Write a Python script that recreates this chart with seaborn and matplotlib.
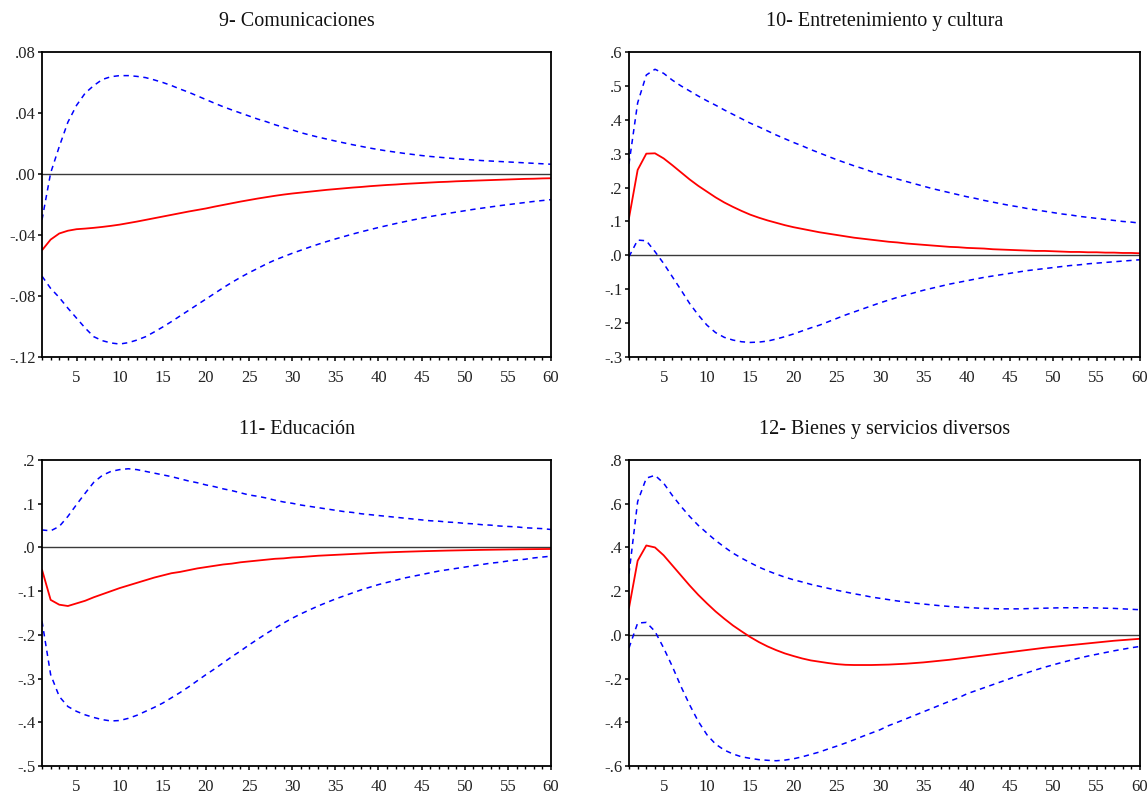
import matplotlib
matplotlib.use("Agg")
import matplotlib.pyplot as plt
import seaborn as sns
from matplotlib.ticker import FixedLocator, MultipleLocator, FuncFormatter

sns.set_theme(style="ticks")
plt.rcParams['font.family'] = ['Liberation Serif', 'DejaVu Serif']

periods = list(range(1, 61))

# 9- Comunicaciones
comm_resp = [-0.050, -0.043, -0.039, -0.0372, -0.0362, -0.0358, -0.0353, -0.0347, -0.0340, -0.0332,
             -0.0322, -0.0312, -0.0301, -0.0290, -0.0279, -0.0268, -0.0257, -0.0246, -0.0236, -0.0226,
             -0.0214, -0.0203, -0.0192, -0.0181, -0.0171, -0.0161, -0.0152, -0.0143, -0.0135, -0.0128,
             -0.0122, -0.0116, -0.0110, -0.0104, -0.0099, -0.0094, -0.0089, -0.0085, -0.0080, -0.0076,
             -0.0072, -0.0069, -0.0065, -0.0062, -0.0059, -0.0056, -0.0053, -0.0051, -0.0048, -0.0046,
             -0.0044, -0.0042, -0.0040, -0.0038, -0.0036, -0.0034, -0.0032, -0.0031, -0.0029, -0.0028]
comm_hi = [-0.030, 0.0007, 0.018, 0.034, 0.045, 0.053, 0.058, 0.062, 0.0638, 0.0645,
           0.0645, 0.0640, 0.0632, 0.0617, 0.0600, 0.0580, 0.0557, 0.0536, 0.0512, 0.0488,
           0.0464, 0.0441, 0.0420, 0.0400, 0.0380, 0.0360, 0.0343, 0.0323, 0.0306, 0.0289,
           0.0271, 0.0256, 0.0242, 0.0229, 0.0216, 0.0204, 0.0192, 0.0181, 0.0170, 0.0160,
           0.0151, 0.0143, 0.0135, 0.0128, 0.0121, 0.0115, 0.0110, 0.0105, 0.0100, 0.0096,
           0.0092, 0.0088, 0.0085, 0.0082, 0.0079, 0.0076, 0.0073, 0.0070, 0.0067, 0.0064]
comm_lo = [-0.067, -0.075, -0.081, -0.088, -0.0945, -0.101, -0.1067, -0.1093, -0.1108, -0.1115,
           -0.1106, -0.1089, -0.1067, -0.1036, -0.1003, -0.0968, -0.0931, -0.0894, -0.0857, -0.0820,
           -0.0783, -0.0746, -0.0711, -0.0678, -0.0647, -0.0619, -0.0590, -0.0564, -0.0542, -0.0520,
           -0.0500, -0.0480, -0.0461, -0.0443, -0.0426, -0.0410, -0.0394, -0.0379, -0.0365, -0.0351,
           -0.0338, -0.0325, -0.0313, -0.0301, -0.0290, -0.0279, -0.0269, -0.0259, -0.0250, -0.0241,
           -0.0232, -0.0224, -0.0216, -0.0208, -0.0201, -0.0194, -0.0187, -0.0180, -0.0174, -0.0168]

# 10- Entretenimiento y cultura
ent_resp = [0.110, 0.252, 0.300, 0.301, 0.286, 0.266, 0.245, 0.224, 0.205, 0.188,
            0.171, 0.156, 0.143, 0.131, 0.120, 0.111, 0.103, 0.096, 0.089, 0.083,
            0.078, 0.073, 0.068, 0.064, 0.060, 0.056, 0.052, 0.049, 0.046, 0.043,
            0.040, 0.038, 0.035, 0.033, 0.031, 0.029, 0.027, 0.025, 0.024, 0.022,
            0.021, 0.020, 0.018, 0.017, 0.016, 0.015, 0.014, 0.013, 0.013, 0.012,
            0.011, 0.010, 0.010, 0.009, 0.009, 0.008, 0.008, 0.007, 0.007, 0.006]
ent_hi = [0.270, 0.450, 0.532, 0.549, 0.537, 0.517, 0.500, 0.485, 0.470, 0.456,
          0.443, 0.429, 0.416, 0.403, 0.390, 0.379, 0.367, 0.355, 0.344, 0.333,
          0.323, 0.312, 0.302, 0.292, 0.282, 0.273, 0.264, 0.256, 0.247, 0.239,
          0.232, 0.225, 0.218, 0.211, 0.204, 0.197, 0.191, 0.185, 0.179, 0.173,
          0.168, 0.162, 0.157, 0.152, 0.147, 0.143, 0.138, 0.134, 0.130, 0.126,
          0.122, 0.119, 0.115, 0.112, 0.109, 0.106, 0.103, 0.100, 0.098, 0.095]
ent_lo = [-0.004, 0.045, 0.043, 0.011, -0.024, -0.063, -0.102, -0.142, -0.176, -0.206,
          -0.228, -0.242, -0.250, -0.255, -0.257, -0.256, -0.253, -0.247, -0.240, -0.232,
          -0.223, -0.214, -0.206, -0.196, -0.186, -0.176, -0.167, -0.158, -0.149, -0.140,
          -0.132, -0.124, -0.117, -0.110, -0.103, -0.097, -0.091, -0.085, -0.080, -0.075,
          -0.070, -0.065, -0.061, -0.057, -0.053, -0.049, -0.045, -0.042, -0.039, -0.036,
          -0.033, -0.030, -0.028, -0.025, -0.023, -0.021, -0.019, -0.017, -0.015, -0.013]

# 11- Educación
edu_resp = [-0.051, -0.120, -0.131, -0.134, -0.128, -0.122, -0.114, -0.107, -0.100, -0.093,
            -0.087, -0.081, -0.075, -0.069, -0.064, -0.059, -0.056, -0.052, -0.048, -0.045,
            -0.042, -0.039, -0.037, -0.034, -0.032, -0.030, -0.028, -0.026, -0.025, -0.023,
            -0.022, -0.0205, -0.019, -0.018, -0.017, -0.016, -0.015, -0.014, -0.013, -0.012,
            -0.0113, -0.0106, -0.0099, -0.0093, -0.0087, -0.0082, -0.0077, -0.0072, -0.0068, -0.0064,
            -0.0060, -0.0056, -0.0053, -0.0050, -0.0047, -0.0044, -0.0041, -0.0039, -0.0037, -0.0035]
edu_hi = [0.040, 0.038, 0.048, 0.071, 0.098, 0.124, 0.149, 0.165, 0.174, 0.178,
          0.180, 0.178, 0.174, 0.170, 0.166, 0.162, 0.157, 0.152, 0.148, 0.143,
          0.139, 0.134, 0.130, 0.125, 0.120, 0.117, 0.113, 0.108, 0.104, 0.101,
          0.097, 0.094, 0.091, 0.088, 0.085, 0.082, 0.080, 0.077, 0.075, 0.073,
          0.071, 0.069, 0.067, 0.065, 0.063, 0.061, 0.060, 0.058, 0.057, 0.055,
          0.054, 0.052, 0.051, 0.049, 0.048, 0.047, 0.045, 0.044, 0.043, 0.041]
edu_lo = [-0.169, -0.291, -0.341, -0.364, -0.375, -0.383, -0.389, -0.394, -0.397, -0.396,
          -0.391, -0.384, -0.375, -0.366, -0.356, -0.344, -0.332, -0.319, -0.305, -0.291,
          -0.278, -0.264, -0.250, -0.237, -0.223, -0.210, -0.197, -0.185, -0.173, -0.162,
          -0.152, -0.143, -0.134, -0.126, -0.118, -0.111, -0.104, -0.097, -0.091, -0.085,
          -0.080, -0.075, -0.070, -0.066, -0.062, -0.058, -0.054, -0.051, -0.048, -0.045,
          -0.042, -0.039, -0.036, -0.034, -0.031, -0.029, -0.027, -0.024, -0.022, -0.020]

# 12- Bienes y servicios diversos
bien_resp = [0.123, 0.339, 0.409, 0.400, 0.364, 0.318, 0.272, 0.226, 0.183, 0.144,
             0.107, 0.074, 0.043, 0.016, -0.010, -0.033, -0.053, -0.070, -0.085, -0.097,
             -0.108, -0.117, -0.123, -0.129, -0.134, -0.137, -0.138, -0.138, -0.138, -0.137,
             -0.136, -0.134, -0.132, -0.129, -0.126, -0.122, -0.118, -0.114, -0.109, -0.104,
             -0.099, -0.094, -0.089, -0.084, -0.079, -0.074, -0.069, -0.064, -0.059, -0.055,
             -0.051, -0.047, -0.043, -0.039, -0.035, -0.031, -0.027, -0.024, -0.021, -0.018]
bien_hi = [0.280, 0.610, 0.717, 0.730, 0.694, 0.638, 0.588, 0.542, 0.501, 0.466,
           0.432, 0.402, 0.374, 0.351, 0.330, 0.310, 0.293, 0.278, 0.264, 0.252,
           0.242, 0.231, 0.222, 0.213, 0.204, 0.196, 0.188, 0.181, 0.173, 0.167,
           0.161, 0.155, 0.150, 0.145, 0.141, 0.137, 0.133, 0.130, 0.127, 0.125,
           0.123, 0.121, 0.120, 0.119, 0.119, 0.119, 0.120, 0.121, 0.122, 0.123,
           0.124, 0.124, 0.124, 0.124, 0.123, 0.122, 0.121, 0.119, 0.117, 0.115]
bien_lo = [-0.060, 0.054, 0.057, 0.016, -0.060, -0.144, -0.236, -0.320, -0.396, -0.457,
           -0.500, -0.527, -0.545, -0.558, -0.565, -0.571, -0.574, -0.576, -0.573, -0.567,
           -0.558, -0.547, -0.536, -0.522, -0.509, -0.495, -0.480, -0.464, -0.449, -0.434,
           -0.415, -0.400, -0.384, -0.368, -0.352, -0.336, -0.320, -0.304, -0.289, -0.270,
           -0.256, -0.242, -0.228, -0.214, -0.200, -0.186, -0.173, -0.160, -0.148, -0.137,
           -0.126, -0.116, -0.106, -0.097, -0.089, -0.081, -0.073, -0.066, -0.059, -0.053]

titles = ["9- Comunicaciones", "10- Entretenimiento y cultura",
          "11- Educación", "12- Bienes y servicios diversos"]
y_limits = [(-0.12, 0.08), (-0.3, 0.6), (-0.5, 0.2), (-0.6, 0.8)]
y_steps = [0.04, 0.1, 0.1, 0.2]
y_decimals = [2, 1, 1, 1]
x_ticks = [5, 10, 15, 20, 25, 30, 35, 40, 45, 50, 55, 60]

panels = [
    (comm_resp, comm_lo, comm_hi),
    (ent_resp, ent_lo, ent_hi),
    (edu_resp, edu_lo, edu_hi),
    (bien_resp, bien_lo, bien_hi),
]

# posiciones en fracción de figura (izq, abajo, ancho, alto)
positions = [
    [0.0366, 0.5515, 0.4434, 0.3832],
    [0.5479, 0.5515, 0.4451, 0.3832],
    [0.0366, 0.0377, 0.4434, 0.3844],
    [0.5479, 0.0377, 0.4451, 0.3844],
]


def short_fmt(dec):
    def f(v, pos):
        s = f"{v:.{dec}f}"
        if s.startswith("-") and float(s) == 0:
            s = s[1:]
        return s.replace("0.", ".", 1)
    return FuncFormatter(f)


fig = plt.figure(figsize=(11.48, 7.96), dpi=100)

for i, (resp, lo, hi) in enumerate(panels):
    ax = fig.add_axes(positions[i])
    ax.axhline(0, color="#3a3a3a", lw=1.0, zorder=1)
    sns.lineplot(x=periods, y=hi, ax=ax, color="blue", lw=1.1, ls=(0, (3.5, 3)))
    sns.lineplot(x=periods, y=lo, ax=ax, color="blue", lw=1.1, ls=(0, (3.5, 3)))
    sns.lineplot(x=periods, y=resp, ax=ax, color="red", lw=1.3)

    ax.set_xlim(1, 60)
    ymin, ymax = y_limits[i]
    ax.set_ylim(ymin, ymax)
    ax.yaxis.set_major_locator(MultipleLocator(y_steps[i]))
    ax.yaxis.set_major_formatter(short_fmt(y_decimals[i]))
    ax.xaxis.set_major_locator(FixedLocator(x_ticks))
    ax.xaxis.set_minor_locator(MultipleLocator(1))

    for sp in ax.spines.values():
        sp.set_color("black")
        sp.set_linewidth(1.3)
    ax.tick_params(axis="both", which="major", direction="out", length=3.2, width=1.1,
                   color="black", labelsize=12, labelcolor="#222222", pad=1.5)
    ax.tick_params(axis="x", which="major", pad=6.5)
    ax.tick_params(axis="x", which="minor", direction="out", length=2, width=1, color="black")
    ax.set_xlabel("")
    ax.set_ylabel("")
    ax.set_title(titles[i], fontsize=14.5, pad=19, color="#111111")

fig.savefig("out.png", dpi=100)
